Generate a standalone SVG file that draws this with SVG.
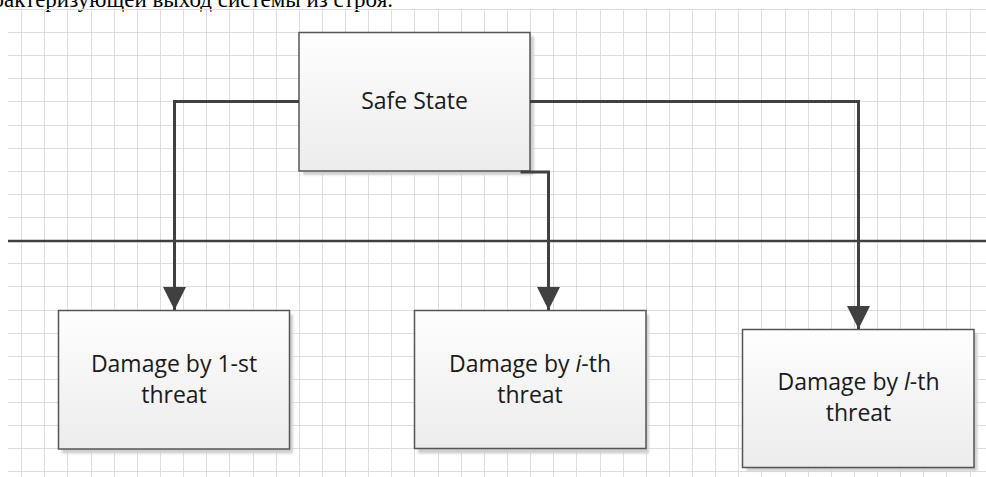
<svg xmlns="http://www.w3.org/2000/svg" width="986" height="477" viewBox="0 0 986 477">
<style>
.grid{stroke:#dcdcdc;stroke-width:1;fill:none}
.box{fill:url(#g);stroke:#555;stroke-width:1.5}
.shadow{fill:#cfcfcf;filter:url(#blur)}
.lbl{font-family:"Open Sans","Noto Sans",sans-serif;font-size:23px;fill:#1a1a1a;text-anchor:middle}
.conn{fill:none;stroke:#404040;stroke-width:3}
.top{font-family:"Liberation Serif","Times New Roman",serif;font-size:23px;fill:#000;text-anchor:end}
</style>
<defs>
<linearGradient id="g" x1="0" y1="0" x2="0" y2="1">
<stop offset="0" stop-color="#fefefe"/>
<stop offset="1" stop-color="#ececec"/>
</linearGradient>
<filter id="blur" x="-10%" y="-10%" width="120%" height="120%"><feGaussianBlur stdDeviation="1.2"/></filter>
<marker id="arr" markerUnits="userSpaceOnUse" markerWidth="24" markerHeight="24" viewBox="0 0 24 24" refX="23" refY="12" orient="auto">
<path d="M0,0.5 L23,12 L0,23.5 Z" fill="#404040"/>
</marker>
</defs>
<rect width="986" height="477" fill="#fff"/>
<text class="top" x="393" y="6.5">характеризующей выход системы из строя.</text>
<g id="grid">
<path class="grid" d="M21.5 9.5V477M44.5 9.5V477M67.5 9.5V477M91.5 9.5V477M114.5 9.5V477M137.5 9.5V477M160.5 9.5V477M183.5 9.5V477M206.5 9.5V477M229.5 9.5V477M253.5 9.5V477M276.5 9.5V477M299.5 9.5V477M322.5 9.5V477M345.5 9.5V477M368.5 9.5V477M391.5 9.5V477M414.5 9.5V477M438.5 9.5V477M461.5 9.5V477M484.5 9.5V477M507.5 9.5V477M530.5 9.5V477M553.5 9.5V477M576.5 9.5V477M600.5 9.5V477M623.5 9.5V477M646.5 9.5V477M669.5 9.5V477M692.5 9.5V477M715.5 9.5V477M738.5 9.5V477M761.5 9.5V477M785.5 9.5V477M808.5 9.5V477M831.5 9.5V477M854.5 9.5V477M877.5 9.5V477M900.5 9.5V477M923.5 9.5V477M946.5 9.5V477M970.5 9.5V477"/>
<path class="grid" d="M8 9.5H986M8 32.5H986M8 55.5H986M8 78.5H986M8 101.5H986M8 125.5H986M8 148.5H986M8 171.5H986M8 194.5H986M8 217.5H986M8 240.5H986M8 263.5H986M8 286.5H986M8 310.5H986M8 333.5H986M8 356.5H986M8 379.5H986M8 402.5H986M8 425.5H986M8 448.5H986M8 471.5H986"/>
</g>
<g id="divider">
<path d="M8 241H986" stroke="#404040" stroke-width="2.5" fill="none"/>
</g>
<g id="safe-state">
<rect class="shadow" x="303" y="36" width="231" height="139"/>
<rect class="box" x="299" y="32.5" width="231" height="138.5"/>
<text class="lbl" x="414.5" y="109">Safe State</text>
</g>
<g id="damage-1">
<rect class="shadow" x="62" y="314.5" width="231" height="139"/>
<rect class="box" x="58.5" y="310.5" width="231" height="138.5"/>
<text class="lbl" x="174" y="371.5">Damage by 1-st</text>
<text class="lbl" x="174" y="402.5">threat</text>
</g>
<g id="damage-i">
<rect class="shadow" x="418" y="314.5" width="231" height="139"/>
<rect class="box" x="414.5" y="310.5" width="231.5" height="138"/>
<text class="lbl" x="530" y="371.5">Damage by <tspan font-style="italic">i</tspan>-th</text>
<text class="lbl" x="530" y="402.5">threat</text>
</g>
<g id="damage-l">
<rect class="shadow" x="746.5" y="333" width="231" height="138"/>
<rect class="box" x="742.5" y="329.5" width="231.5" height="138"/>
<text class="lbl" x="858.5" y="390">Damage by <tspan font-style="italic">l</tspan>-th</text>
<text class="lbl" x="858.5" y="421">threat</text>
</g>
<g id="connectors">
<path class="conn" d="M299 101.5H174.5V310" marker-end="url(#arr)"/>
<path class="conn" d="M520.5 172H548.5V310" marker-end="url(#arr)"/>
<path class="conn" d="M530 101.5H858.5V329" marker-end="url(#arr)"/>
</g>
</svg>
